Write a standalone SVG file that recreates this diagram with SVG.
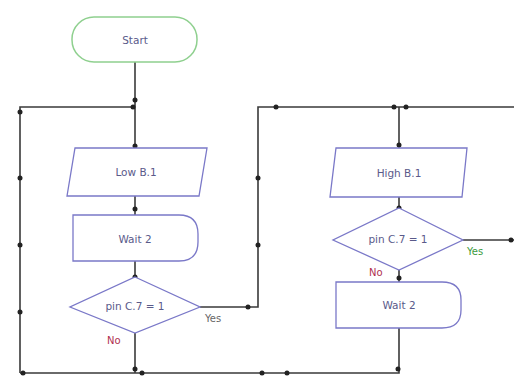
<svg xmlns="http://www.w3.org/2000/svg" width="514" height="380" viewBox="0 0 514 380">
<style>
.node{fill:#fff;stroke:#7a78c8;stroke-width:1.3}
.start{fill:#fff;stroke:#8fd08f;stroke-width:1.5}
.lbl{font-family:"DejaVu Sans","Liberation Sans",sans-serif;font-size:10.5px;fill:#5a5a8a;text-anchor:middle;dominant-baseline:central}
.conn{fill:none;stroke:#3a3a3a;stroke-width:1.6}
.dot{fill:#222}
.yes{font-family:"DejaVu Sans","Liberation Sans",sans-serif;font-size:10px;fill:#666}
.yesg{font-family:"DejaVu Sans","Liberation Sans",sans-serif;font-size:10px;fill:#3c9a3c}
.no{font-family:"DejaVu Sans","Liberation Sans",sans-serif;font-size:10px;fill:#b03050}
</style>
<rect width="514" height="380" fill="#fff"/>
<g id="connectors">
<path class="conn" d="M135,62 V148"/>
<path class="conn" d="M20,373 V107 H135"/>
<path class="conn" d="M135,195 V215"/>
<path class="conn" d="M135,261 V276"/>
<path class="conn" d="M200,307 H258 V107 H514"/>
<path class="conn" d="M399,107 V148"/>
<path class="conn" d="M399,197 V209"/>
<path class="conn" d="M463,240 H514"/>
<path class="conn" d="M399,270 V282"/>
<path class="conn" d="M399,328 V373 H20"/>
<path class="conn" d="M135,333 V373"/>
<g class="dot">
<circle cx="135" cy="100" r="2.5"/><circle cx="133" cy="107" r="2.5"/><circle cx="135" cy="146" r="2.5"/>
<circle cx="20" cy="112" r="2.5"/><circle cx="20" cy="178" r="2.5"/><circle cx="20" cy="245" r="2.5"/><circle cx="20" cy="312" r="2.5"/><circle cx="23" cy="373" r="2.5"/>
<circle cx="135" cy="209" r="2.5"/><circle cx="135" cy="277" r="2.5"/><circle cx="248" cy="307" r="2.5"/>
<circle cx="135" cy="369" r="2.5"/><circle cx="142" cy="373" r="2.5"/><circle cx="262" cy="373" r="2.5"/><circle cx="287" cy="373" r="2.5"/><circle cx="398" cy="369" r="2.5"/>
<circle cx="258" cy="178" r="2.5"/><circle cx="258" cy="245" r="2.5"/>
<circle cx="276" cy="107" r="2.5"/><circle cx="394" cy="107" r="2.5"/><circle cx="406" cy="107" r="2.5"/>
<circle cx="399" cy="145" r="2.5"/><circle cx="399" cy="208" r="2.5"/><circle cx="511" cy="240" r="2.5"/><circle cx="399" cy="278" r="2.5"/>
</g>
</g>
<g id="start">
<rect class="start" x="72" y="17" width="125" height="45" rx="22" ry="22"/>
<text class="lbl" x="135" y="40">Start</text>
</g>
<g id="low">
<polygon class="node" points="75,148 207,148 199,196 67,196"/>
<text class="lbl" x="136" y="172">Low B.1</text>
</g>
<g id="wait1">
<path class="node" d="M73,215 H179 Q198,215 198,234 V242 Q198,261 179,261 H73 Z"/>
<text class="lbl" x="135" y="239">Wait 2</text>
</g>
<g id="dec1">
<polygon class="node" points="135,277 200,307 135,333 70,307"/>
<text class="lbl" x="135" y="306">pin C.7 = 1</text>
<text class="yes" x="205" y="322">Yes</text>
<text class="no" x="107" y="344">No</text>
</g>
<g id="high">
<polygon class="node" points="336,148 467,148 462,197 330,197"/>
<text class="lbl" x="399" y="173">High B.1</text>
</g>
<g id="dec2">
<polygon class="node" points="399,208 463,240 399,270 333,240"/>
<text class="lbl" x="398" y="239">pin C.7 = 1</text>
<text class="yesg" x="467" y="255">Yes</text>
<text class="no" x="369" y="276">No</text>
</g>
<g id="wait2">
<path class="node" d="M336,282 H442 Q461,282 461,300 V310 Q461,328 442,328 H336 Z"/>
<text class="lbl" x="399" y="305">Wait 2</text>
</g>
</svg>
